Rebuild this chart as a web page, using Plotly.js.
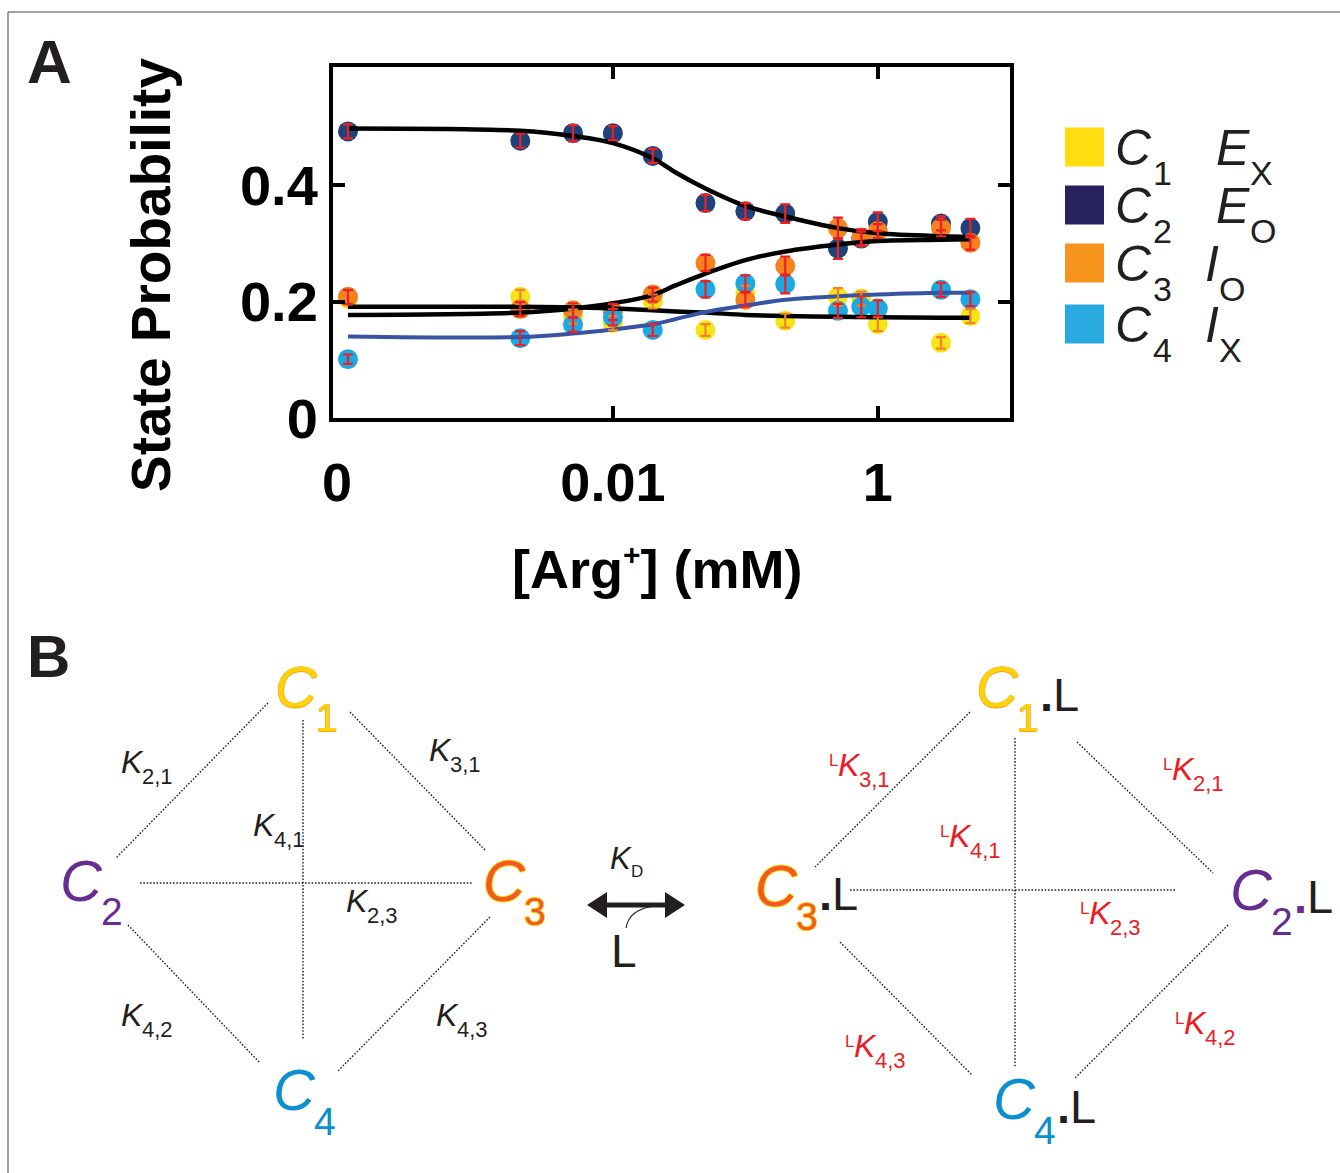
<!DOCTYPE html>
<html><head><meta charset="utf-8">
<script src="https://cdn.plot.ly/plotly-3.0.1.min.js"></script>
<style>body{margin:0;background:#fff}</style>
</head><body><div id="chart" style="width:1340px;height:1173px"></div>
<script>
// ---------- data (panel A) ----------
const argConc = [0.0001, 0.002, 0.005, 0.01, 0.02, 0.05, 0.1, 0.2, 0.5, 0.75, 1, 3, 5];
const probC1 = [0.205, 0.208, 0.174, 0.163, 0.200, 0.151, 0.215, 0.167, 0.208, 0.205, 0.161, 0.129, 0.175];
const probC2 = [0.492, 0.476, 0.489, 0.489, 0.450, 0.369, 0.355, 0.351, 0.291, 0.308, 0.337, 0.334, 0.326];
const probC3 = [0.208, 0.187, 0.185, 0.182, 0.212, 0.266, 0.203, 0.261, 0.326, 0.310, 0.321, 0.326, 0.301];
const probC4 = [0.101, 0.137, 0.160, 0.173, 0.151, 0.221, 0.231, 0.230, 0.184, 0.191, 0.188, 0.220, 0.204];
const errC1 = [0.010, 0.012, 0.012, 0.012, 0.012, 0.010, 0.012, 0.012, 0.015, 0.012, 0.012, 0.010, 0.012];
const errC2 = [0.012, 0.012, 0.014, 0.012, 0.012, 0.014, 0.014, 0.016, 0.018, 0.012, 0.016, 0.012, 0.016];
const errC3 = [0.012, 0.012, 0.012, 0.014, 0.012, 0.014, 0.012, 0.016, 0.018, 0.014, 0.012, 0.014, 0.012];
const errC4 = [0.008, 0.012, 0.012, 0.014, 0.010, 0.014, 0.014, 0.016, 0.012, 0.018, 0.014, 0.012, 0.012];

const fitConc = [0.0001, 0.002, 0.005, 0.01, 0.02, 0.03, 0.05, 0.1, 0.2, 0.5, 1, 3, 5];
const fitC1 = [0.191, 0.191, 0.190, 0.188, 0.185, 0.183, 0.181, 0.177, 0.175, 0.174, 0.173, 0.172, 0.172];
const fitC2 = [0.497, 0.493, 0.484, 0.472, 0.446, 0.421, 0.394, 0.364, 0.346, 0.326, 0.317, 0.312, 0.311];
const fitC3 = [0.177, 0.181, 0.188, 0.197, 0.211, 0.228, 0.248, 0.271, 0.286, 0.298, 0.304, 0.306, 0.307];
const fitC4 = [0.140, 0.139, 0.145, 0.152, 0.161, 0.170, 0.182, 0.193, 0.203, 0.209, 0.212, 0.215, 0.215];

const xTickVals = [0.01, 1];
const xTickText = ['0.01', '1'];
const yTickVals = [0, 0.2, 0.4];
const yTickText = ['0', '0.2', '0.4'];

const stateNames = ['C1', 'C2', 'C3', 'C4'];
const stateLetters = ['E', 'E', 'I', 'I'];
const stateSubs = ['X', 'O', 'O', 'X'];

// ---------- helpers ----------
const W = 1340, H = 1173;
const X = p => p / W;
const Y = p => 1 - p / H;
const FONT = 'Liberation Sans, Arial, Helvetica, sans-serif';

function txt(text, x, y, size, color, extra) {
  const a = {xref: 'paper', yref: 'paper', x: X(x), y: Y(y), xanchor: 'left', yanchor: 'middle',
    text: text, showarrow: false, font: {family: FONT, size: size, color: color || '#231f20'}};
  if (extra) {
    if (extra.font) { Object.assign(a.font, extra.font); delete extra.font; }
    Object.assign(a, extra);
  }
  return a;
}

// ---------- traces ----------
const markerSets = [
  {name: 'C1', y: probC1, e: errC1, color: '#f6e516', ecolor: '#f0842c'},
  {name: 'C2', y: probC2, e: errC2, color: '#1e4279', ecolor: '#ed2024'},
  {name: 'C3', y: probC3, e: errC3, color: '#f5821f', ecolor: '#ed2024'},
  {name: 'C4', y: probC4, e: errC4, color: '#1aa9e2', ecolor: '#ed2024'}
];
const traces = [];
markerSets.forEach(s => {
  traces.push({type: 'scatter', mode: 'markers', name: s.name, x: argConc, y: s.y,
    marker: {size: 20, color: s.color, line: {width: 0}}, showlegend: false, cliponaxis: false});
});
const fits = [
  {y: fitC1, color: '#000000', w: 4.5},
  {y: fitC2, color: '#000000', w: 4.5},
  {y: fitC3, color: '#000000', w: 4.5},
  {y: fitC4, color: '#3953a4', w: 4}
];
fits.forEach((f, i) => {
  traces.push({type: 'scatter', mode: 'lines', name: 'fit ' + stateNames[i], x: fitConc, y: f.y,
    line: {color: f.color, width: f.w, shape: 'spline', smoothing: 1}, showlegend: false});
});
markerSets.forEach(s => {
  traces.push({type: 'scatter', mode: 'markers', name: s.name + ' SEM', x: argConc, y: s.y,
    marker: {size: 2, color: 'rgba(0,0,0,0)'},
    error_y: {type: 'data', array: s.e, visible: true, color: s.ecolor, thickness: 2.2, width: 5},
    showlegend: false, cliponaxis: false});
});

// ---------- shapes ----------
const shapes = [];
shapes.push({type: 'rect', xref: 'paper', yref: 'paper', x0: X(8), y0: Y(12), x1: 1.02, y1: -0.02,
  line: {color: '#444', width: 1}, fillcolor: 'rgba(0,0,0,0)'});
const legColors = ['#ffdd11', '#27225f', '#f7941e', '#28a9e0'];
const legRows = [147, 205, 263, 324];
legColors.forEach((c, i) => {
  shapes.push({type: 'rect', xref: 'paper', yref: 'paper', x0: X(1065), x1: X(1104),
    y0: Y(legRows[i] - 19.5), y1: Y(legRows[i] + 19.5), fillcolor: c, line: {width: 0}});
});
const dotted = [
  [268, 703, 116, 858], [350, 712, 485, 850], [303, 720, 303, 1040], [140, 883, 472, 883],
  [128, 925, 260, 1063], [490, 917, 337, 1072],
  [970, 712, 815, 867], [1077, 742, 1213, 873], [1015, 738, 1015, 1067], [850, 890, 1175, 890],
  [840, 942, 972, 1075], [1228, 925, 1075, 1078]
];
dotted.forEach(d => {
  shapes.push({type: 'line', xref: 'paper', yref: 'paper', x0: X(d[0]), y0: Y(d[1]), x1: X(d[2]), y1: Y(d[3]),
    line: {color: '#231f20', width: 1.4, dash: '1.6px,1.7px'}});
});
shapes.push({type: 'line', xref: 'paper', yref: 'paper', x0: X(600), x1: X(672), y0: Y(905), y1: Y(905),
  line: {color: '#231f20', width: 5}});
shapes.push({type: 'path', xref: 'paper', yref: 'paper',
  path: `M ${X(587)},${Y(905)} L ${X(607)},${Y(892)} L ${X(607)},${Y(918)} Z`, fillcolor: '#231f20', line: {width: 0}});
shapes.push({type: 'path', xref: 'paper', yref: 'paper',
  path: `M ${X(685)},${Y(905)} L ${X(665)},${Y(892)} L ${X(665)},${Y(918)} Z`, fillcolor: '#231f20', line: {width: 0}});
shapes.push({type: 'path', xref: 'paper', yref: 'paper',
  path: `M ${X(626)},${Y(928)} Q ${X(629)},${Y(909)} ${X(655)},${Y(906)}`, line: {color: '#231f20', width: 1.2}});

// ---------- annotations ----------
const ann = [];
ann.push(txt('A', 49, 62, 62, '#231f20', {xanchor: 'center', font: {weight: 'bold'}}));
ann.push(txt('B', 48, 656, 60, '#231f20', {xanchor: 'center', font: {weight: 'bold'}}));
ann.push(txt('State Probability', 151, 275, 55, '#000', {xanchor: 'center', textangle: -90, font: {weight: 'bold'}}));
ann.push(txt('[Arg<sup><span style="font-size:30px">+</span></sup>] (mM)', 657, 568, 54, '#000', {xanchor: 'center', font: {weight: 'bold'}}));
ann.push(txt('0', 337, 482, 54, '#000', {xanchor: 'center', font: {weight: 'bold'}}));

stateNames.forEach((n, i) => {
  const cy = legRows[i] + 1;
  ann.push(txt('<i>C</i>', 1113, cy, 50, '#231f20'));
  ann.push(txt(n.slice(1), 1151, cy + 25, 34, '#231f20'));
  const isE = stateLetters[i] === 'E';
  ann.push(txt('<i>' + stateLetters[i] + '</i>', isE ? 1214 : 1203, cy, 50, '#231f20'));
  ann.push(txt(stateSubs[i], isE ? 1248 : 1217, cy + 25, 34, '#231f20'));
});

const outlineY = '1px 0 0 #ffd400, -1px 0 0 #ffd400, 0 1px 0 #ffd400, 0 -1px 0 #ffd400';
const outlineO = '0.5px 0 0 #f7a01d, -0.5px 0 0 #f7a01d, 0 0.5px 0 #f7a01d, 0 -0.5px 0 #f7a01d';
const stateCol = {1: '#ffd20a', 2: '#662d91', 3: '#f15a24', 4: '#0b8fd0'};
const stateShadow = {1: outlineO, 2: 'none', 3: outlineY, 4: 'none'};
function state(num, cx, cy, withL, dotColor) {
  ann.push(txt('<i>C</i>', cx, cy, 58, stateCol[num], {font: {shadow: stateShadow[num]}}));
  ann.push(txt(String(num), cx + 41, cy + 32, 39, stateCol[num], {font: {shadow: stateShadow[num]}}));
  if (withL) {
    const dc = dotColor || '#231f20';
    ann.push(txt('<span style="color:' + dc + '"><b>.</b></span>L', cx + 64, cy + 8, 47, '#231f20'));
  }
}
state(1, 273, 686, false);
state(2, 58, 880, false);
state(3, 481, 880, false);
state(4, 271, 1089, false);
state(1, 974, 686, true);
state(3, 753, 885, true);
state(2, 1228, 889, true, '#662d91');
state(4, 991, 1098, true);

function kLab(sub, kx, ky, color, ligand) {
  if (ligand) ann.push(txt('L', kx - 9, ky - 5, 17, color));
  ann.push(txt('<i>K</i>', kx, ky, 32, color));
  ann.push(txt(sub, kx + 21, ky + 14, 22, color));
}
kLab('2,1', 119, 762, '#231f20');
kLab('3,1', 427, 750, '#231f20');
kLab('4,1', 251, 825, '#231f20');
kLab('2,3', 344, 901, '#231f20');
kLab('4,2', 119, 1015, '#231f20');
kLab('4,3', 434, 1015, '#231f20');
const RED = '#ed1c24';
kLab('3,1', 836, 765, RED, true);
kLab('2,1', 1170, 769, RED, true);
kLab('4,1', 947, 836, RED, true);
kLab('2,3', 1087, 913, RED, true);
kLab('4,3', 852, 1046, RED, true);
kLab('4,2', 1182, 1023, RED, true);
ann.push(txt('<i>K</i>', 608, 858, 31, '#231f20'));
ann.push(txt('D', 629, 871, 17, '#231f20'));
ann.push(txt('L', 609, 951, 46, '#231f20'));

// ---------- layout ----------
const axisCommon = {showline: true, linewidth: 4, linecolor: '#000', mirror: 'ticks', ticks: 'inside',
  ticklen: 12, tickwidth: 4, tickcolor: '#000', showgrid: false, zeroline: false};
const layout = {
  width: W, height: H, margin: {l: 0, r: 0, t: 0, b: 0},
  paper_bgcolor: '#fff', plot_bgcolor: '#fff', showlegend: false,
  font: {family: FONT, color: '#000'},
  xaxis: Object.assign({}, axisCommon, {type: 'log', range: [-4.113, 0.998],
    domain: [X(333), X(1010)], tickvals: xTickVals, ticktext: xTickText,
    tickfont: {family: FONT, size: 54, color: '#000', weight: 'bold'}, ticklabelstandoff: 14}),
  yaxis: Object.assign({}, axisCommon, {range: [0, 0.6026], domain: [Y(418), Y(67)],
    tickvals: yTickVals, ticktext: yTickText,
    tickfont: {family: FONT, size: 56, color: '#000', weight: 'bold'}, ticklabelstandoff: 0}),
  shapes: shapes, annotations: ann
};
Plotly.newPlot('chart', traces, layout, {displayModeBar: false, staticPlot: true});
</script></body></html>
